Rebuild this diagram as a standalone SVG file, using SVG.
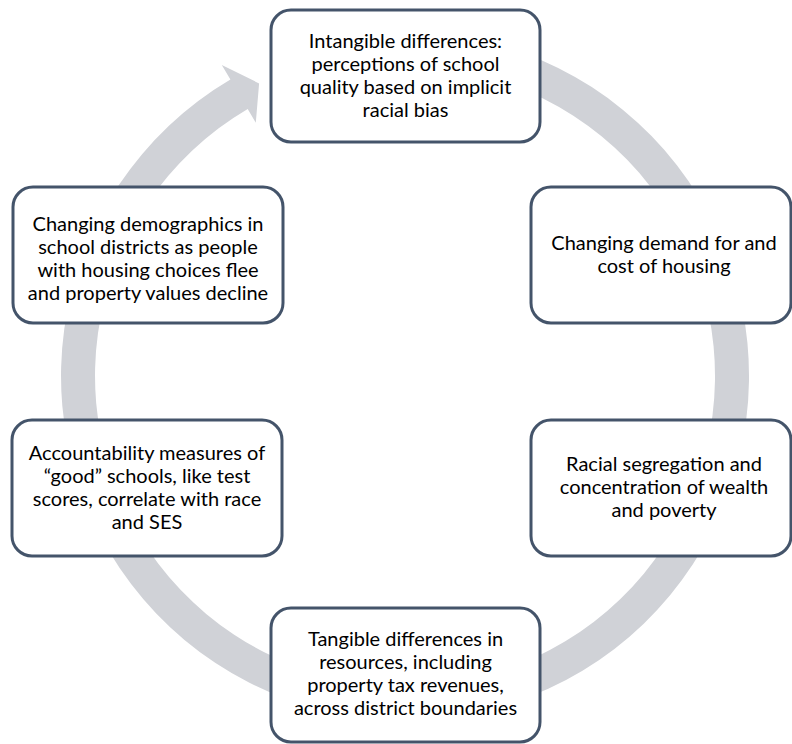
<svg xmlns="http://www.w3.org/2000/svg" width="792" height="744" viewBox="0 0 792 744">
<style>
.box{fill:#ffffff;stroke:#44546A;stroke-width:3}
.t{font-family:Lato,"Liberation Sans",sans-serif;font-size:20px;fill:#000000;text-anchor:middle}
</style>
<rect width="792" height="744" fill="#ffffff"/>
<g id="connectors">
<path fill="#D0D2D7" d="M522.6,52.7 A344,344 0 1 1 230.4,79.6 L221.8,65 L259.1,83.4 L255.8,122.7 L247.7,108.9 A310,310 0 1 0 511,84.7 Z"/>
</g>
<g id="n1">
<rect class="box" x="271" y="10" width="269" height="132" rx="20"/>
<text class="t"><tspan x="405.5" y="48">Intangible differences:</tspan><tspan x="405.5" y="71">perceptions of school</tspan><tspan x="405.5" y="94">quality based on implicit</tspan><tspan x="405.5" y="117">racial bias</tspan></text>
</g>
<g id="n2">
<rect class="box" x="531" y="187" width="260" height="136" rx="20"/>
<text class="t"><tspan x="664" y="250">Changing demand for and</tspan><tspan x="664" y="273">cost of housing</tspan></text>
</g>
<g id="n3">
<rect class="box" x="531" y="420" width="260" height="136" rx="20"/>
<text class="t"><tspan x="664" y="471">Racial segregation and</tspan><tspan x="664" y="494">concentration of wealth</tspan><tspan x="664" y="517">and poverty</tspan></text>
</g>
<g id="n4">
<rect class="box" x="271" y="608" width="269" height="134" rx="20"/>
<text class="t"><tspan x="405.5" y="646">Tangible differences in</tspan><tspan x="405.5" y="669">resources, including</tspan><tspan x="405.5" y="692">property tax revenues,</tspan><tspan x="405.5" y="715">across district boundaries</tspan></text>
</g>
<g id="n5">
<rect class="box" x="12" y="420" width="270" height="136" rx="20"/>
<text class="t"><tspan x="147" y="460">Accountability measures of</tspan><tspan x="147" y="483">“good” schools, like test</tspan><tspan x="147" y="506">scores, correlate with race</tspan><tspan x="147" y="529">and SES</tspan></text>
</g>
<g id="n6">
<rect class="box" x="13" y="187" width="270" height="136" rx="20"/>
<text class="t"><tspan x="148" y="231">Changing demographics in</tspan><tspan x="148" y="254">school districts as people</tspan><tspan x="148" y="277">with housing choices flee</tspan><tspan x="148" y="300">and property values decline</tspan></text>
</g>
</svg>
